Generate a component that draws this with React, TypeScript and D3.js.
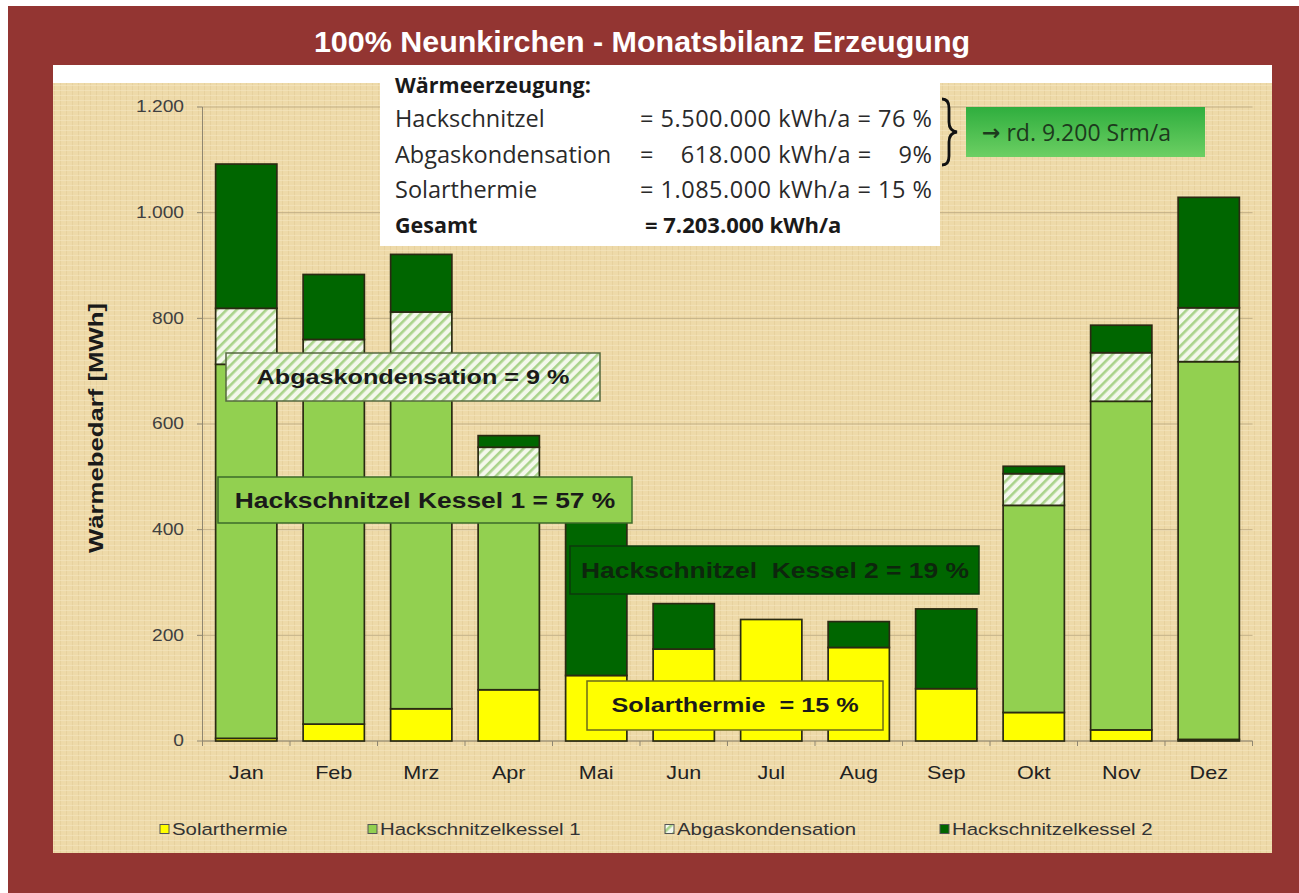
import React from 'react';
import * as d3 from 'd3';

const months = ['Jan', 'Feb', 'Mrz', 'Apr', 'Mai', 'Jun', 'Jul', 'Aug', 'Sep', 'Okt', 'Nov', 'Dez'];
const solar = [5, 32, 61, 97, 124, 174, 230, 177, 99, 54, 21, 3];
const kessel1 = [708, 633, 646, 401, 0, 0, 0, 0, 0, 392, 622, 715];
const abgas = [106, 95, 105, 58, 0, 0, 0, 0, 0, 60, 92, 102];
const kessel2 = [273, 123, 109, 22, 316, 86, 0, 49, 151, 14, 52, 209];
const yTicks = [0, 200, 400, 600, 800, 1000, 1200];
const yTickLabels = ['0', '200', '400', '600', '800', '1.000', '1.200'];

const seriesNames = ['Solarthermie', 'Hackschnitzelkessel 1', 'Abgaskondensation', 'Hackschnitzelkessel 2'];
const seriesKeys = ['solar', 'k1', 'abgas', 'k2'];
const seriesFills = ['#ffff00', '#92d050', 'url(#hatch)', '#006600'];

const infoLabels = ['Hackschnitzel', 'Abgaskondensation', 'Solarthermie'];
const infoValues = ['= 5.500.000 kWh/a = 76 %', '=    618.000 kWh/a =    9%', '= 1.085.000 kWh/a = 15 %'];

const FONT = 'Liberation Sans, Arial, sans-serif';
const INFO_FONT = 'Open Sans, sans-serif';
const SX = 1.2;

function ST(props: any) {
  const { x, y, size, weight, anchor, fill, children, sx } = props;
  return (
    <text
      transform={`translate(${x},${y}) scale(${sx ?? SX},1)`}
      fontFamily={FONT}
      fontSize={size}
      fontWeight={weight ?? 'normal'}
      textAnchor={anchor ?? 'start'}
      dominantBaseline="central"
      fill={fill ?? '#222'}
      style={{ whiteSpace: 'pre' }}
    >
      {children}
    </text>
  );
}

export default function App() {
  const W = 1299;
  const H = 893;
  const x = d3.scaleBand<string>().domain(months).range([202.5, 1252.5]).paddingInner(0.3).paddingOuter(0.15);
  const y = d3.scaleLinear().domain([0, 1200]).range([741, 107]);

  const table = months.map((m, i) => ({ month: m, solar: solar[i], k1: kessel1[i], abgas: abgas[i], k2: kessel2[i] }));
  const stacked = d3.stack<any>().keys(seriesKeys)(table);

  const legendX = [160, 368, 665, 940];

  return (
    <svg width={W} height={H} style={{ position: 'absolute', left: 0, top: 0 }}>
      <defs>
        <pattern id="hatch" patternUnits="userSpaceOnUse" width="7" height="7" patternTransform="rotate(45)">
          <rect width="7" height="7" fill="#f4f8ec" />
          <rect x="0" y="0" width="2.6" height="7" fill="#a9d38a" />
        </pattern>
        <pattern id="paper" patternUnits="userSpaceOnUse" width="6" height="5">
          <rect width="6" height="5" fill="#eedaa9" />
          <rect x="0" y="0" width="1" height="5" fill="#e2cb96" opacity="0.6" />
          <rect x="0" y="0" width="6" height="1" fill="#f5e6c0" opacity="0.6" />
        </pattern>
        <linearGradient id="greenbox" x1="0" y1="0" x2="0" y2="1">
          <stop offset="0" stopColor="#2fae3e" />
          <stop offset="1" stopColor="#6ccf63" />
        </linearGradient>
      </defs>

      <rect x={0} y={0} width={W} height={H} fill="#ffffff" />
      <rect x={8} y={6} width={W - 8} height={H - 6} fill="#933532" />

      <ST x={642} y={42} size={29} weight="bold" anchor="middle" fill="#ffffff" sx={1.05}>
        100% Neunkirchen - Monatsbilanz Erzeugung
      </ST>

      {/* panel */}
      <rect x={53} y={65} width={1219} height={788} fill="url(#paper)" />
      <rect x={53} y={65} width={1219} height={18} fill="#ffffff" />

      {/* gridlines */}
      {yTicks.map((t) => (
        <line key={t} x1={202.5} x2={1252.5} y1={y(t)} y2={y(t)} stroke="#b9a67e" strokeWidth={1} opacity={0.8} />
      ))}
      <line x1={202.5} x2={202.5} y1={y(1200)} y2={y(0)} stroke="#8f8670" strokeWidth={1} />
      <line x1={202.5} x2={1252.5} y1={y(0)} y2={y(0)} stroke="#8f8670" strokeWidth={1} />
      {months.map((m, i) => (
        <line key={m} x1={202.5 + i * x.step()} x2={202.5 + i * x.step()} y1={y(0)} y2={y(0) + 5} stroke="#8f8670" />
      ))}
      <line x1={1252.5} x2={1252.5} y1={y(0)} y2={y(0) + 5} stroke="#8f8670" />
      {yTicks.map((t) => (
        <line key={'t' + t} x1={197} x2={202.5} y1={y(t)} y2={y(t)} stroke="#8f8670" />
      ))}

      {/* y tick labels */}
      {yTicks.map((t, i) => (
        <ST key={'l' + t} x={184} y={y(t)} size={16} anchor="end" fill="#404040">
          {yTickLabels[i]}
        </ST>
      ))}

      {/* y axis title */}
      <text
        transform={`translate(96,${y(600) + 4}) rotate(-90)`}
        fontFamily={FONT}
        fontSize={20}
        fontWeight="bold"
        textAnchor="middle"
        dominantBaseline="central"
        fill="#1a1a1a"
        textLength={250}
        lengthAdjust="spacingAndGlyphs"
      >
        Wärmebedarf [MWh]
      </text>

      {/* bars */}
      {stacked.map((layer, li) => (
        <g key={seriesKeys[li]}>
          {layer.map((d: any, i: number) =>
            d[1] - d[0] > 0 ? (
              <rect
                key={i}
                x={x(months[i])}
                width={x.bandwidth()}
                y={y(d[1])}
                height={y(d[0]) - y(d[1])}
                fill={seriesFills[li]}
                stroke="#2a2a12"
                strokeWidth={1.7}
              />
            ) : null
          )}
        </g>
      ))}

      {/* month labels */}
      {months.map((m) => (
        <ST key={'m' + m} x={(x(m) as number) + x.bandwidth() / 2} y={773} size={18} anchor="middle" fill="#222">
          {m}
        </ST>
      ))}

      {/* legend */}
      {seriesNames.map((n, i) => (
        <g key={n}>
          <rect x={legendX[i]} y={824.5} width={9} height={9} fill={seriesFills[i]} stroke="#555" strokeWidth={1} />
          <ST x={legendX[i] + 12} y={829.5} size={17} fill="#333">
            {n}
          </ST>
        </g>
      ))}

      {/* info box */}
      <rect x={380} y={65} width={560} height={181} fill="#ffffff" />
      <text x={395} y={84} fontFamily={INFO_FONT} fontSize={21.5} fontWeight="bold" dominantBaseline="central" fill="#1a1a1a">
        Wärmeerzeugung:
      </text>
      {infoLabels.map((l, i) => (
        <g key={l}>
          <text x={395} y={118 + i * 35.5} fontFamily={INFO_FONT} fontSize={23.5} dominantBaseline="central" fill="#2a2a2a">
            {l}
          </text>
          <text x={640} y={118 + i * 35.5} fontFamily={INFO_FONT} fontSize={23.5} dominantBaseline="central" fill="#2a2a2a" style={{ whiteSpace: 'pre' }} textLength={292} lengthAdjust="spacing">
            {infoValues[i]}
          </text>
        </g>
      ))}
      <text x={395} y={224} fontFamily={INFO_FONT} fontSize={21.5} fontWeight="bold" dominantBaseline="central" fill="#1a1a1a">
        Gesamt
      </text>
      <text x={645} y={224} fontFamily={INFO_FONT} fontSize={22} fontWeight="bold" dominantBaseline="central" fill="#1a1a1a">
        = 7.203.000 kWh/a
      </text>

      {/* brace */}
      <path
        d="M942,99 Q949,99 949,108 L949,122 Q949,131 957,132 Q949,133 949,142 L949,156 Q949,165 942,165"
        fill="none"
        stroke="#111"
        strokeWidth={2.8}
      />
      <rect x={966} y={107} width={239} height={50} fill="url(#greenbox)" />
      <text x={982} y={132} fontFamily={INFO_FONT} fontSize={23} dominantBaseline="central" fill="#1d3a1d">
        <tspan fontFamily="DejaVu Sans, sans-serif" fontWeight="bold" fontSize={22}>→</tspan>
        <tspan> rd. 9.200 Srm/a</tspan>
      </text>

      {/* annotation boxes */}
      <rect x={226} y={353} width={374} height={48} fill="url(#hatch)" stroke="#55683f" strokeWidth={1.5} />
      <ST x={413} y={377} size={21} weight="bold" anchor="middle" fill="#1a1a1a">
        Abgaskondensation = 9 %
      </ST>

      <rect x={218} y={477} width={414} height={46} fill="#92d050" stroke="#3d6b2a" strokeWidth={1.5} />
      <ST x={425} y={500} size={22} weight="bold" anchor="middle" fill="#1a1a1a">
        Hackschnitzel Kessel 1 = 57 %
      </ST>

      <rect x={570} y={546} width={409} height={48} fill="#006600" stroke="#0c3a0c" strokeWidth={1.5} />
      <ST x={775} y={570} size={22} weight="bold" anchor="middle" fill="#0d260d">
        Hackschnitzel  Kessel 2 = 19 %
      </ST>

      <rect x={587} y={681} width={296} height={49} fill="#ffff00" stroke="#6b6b1a" strokeWidth={1.5} />
      <ST x={735} y={705} size={21} weight="bold" anchor="middle" fill="#1a1a1a">
        Solarthermie  = 15 %
      </ST>
    </svg>
  );
}
